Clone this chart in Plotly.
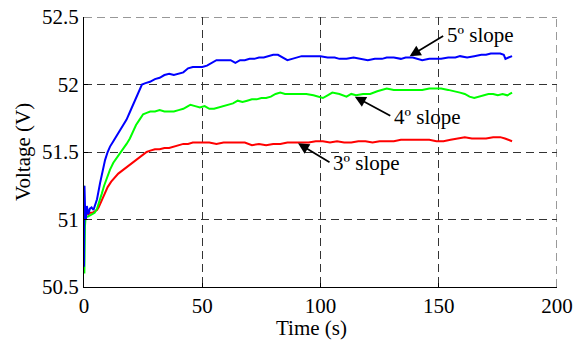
import plotly.graph_objects as go

# ---- data ----
t_blue = [0, 0.2, 0.5, 0.8, 1.2, 1.8, 2.5, 3.2, 4.0, 4.6, 5.5, 6.8, 7.8, 8.9, 10, 11, 12.4, 13.8, 15, 16.5,
          18, 19.5, 21, 22.3, 23.5, 24.5, 26, 27.9, 30, 32, 34, 36, 38, 40, 42, 44, 46, 48, 50, 52,
          54, 56, 58, 60, 62, 64, 66, 68, 70, 72, 74, 76, 78, 80, 82, 84, 86, 88, 90, 92,
          95, 98, 100, 103, 106, 108, 111, 114, 117, 120, 123, 126, 128, 131, 134, 136, 139, 141, 143, 146,
          149, 151, 154, 157, 159, 162, 165, 168, 170, 172, 174, 176, 177.5, 178.2, 179.5, 181]
v_blue = [50.65, 51.25, 51.05, 51.0, 51.1, 51.04, 51.08, 51.09, 51.07, 51.10, 51.15, 51.27, 51.36, 51.44, 51.50, 51.54, 51.58, 51.62, 51.66, 51.70,
          51.74, 51.80, 51.86, 51.91, 51.97, 52.00, 52.01, 52.02, 52.04, 52.05, 52.07, 52.08, 52.07, 52.08, 52.09, 52.12, 52.13, 52.13, 52.13, 52.14,
          52.16, 52.18, 52.18, 52.18, 52.18, 52.16, 52.18, 52.18, 52.19, 52.19, 52.20, 52.20, 52.21, 52.22, 52.22, 52.20, 52.18, 52.19, 52.20, 52.21,
          52.21, 52.21, 52.21, 52.20, 52.20, 52.19, 52.19, 52.20, 52.19, 52.18, 52.19, 52.19, 52.20, 52.20, 52.19, 52.20, 52.20, 52.19, 52.18, 52.19,
          52.19, 52.19, 52.20, 52.20, 52.21, 52.20, 52.21, 52.22, 52.22, 52.23, 52.23, 52.23, 52.22, 52.19, 52.20, 52.21]

t_green = [0, 0.15, 0.4, 0.7, 1.5, 2.5, 3.5, 4.5, 5.5, 6.5, 7.5, 8.5, 9.6, 11, 12.4, 14, 15.5, 16.6, 18, 19.4,
           20.8, 22, 23.5, 25, 26.5, 28, 30, 32, 34, 36, 38, 40, 42, 44, 45, 47, 49, 51, 53, 55,
           57, 59, 61, 63, 65, 67, 69, 71, 73, 75, 77, 79, 81, 83, 85, 87, 89, 91, 94, 97,
           99, 101, 103, 105, 108, 111, 113, 115, 118, 121, 124, 126, 128, 131, 134, 137, 140, 143, 146, 149,
           151, 154, 157, 159, 161, 163, 165, 167, 169, 171, 173, 175, 177, 179, 181]
v_green = [51.25, 50.6, 50.95, 51.02, 51.02, 51.03, 51.04, 51.05, 51.08, 51.13, 51.19, 51.25, 51.31, 51.37, 51.42, 51.46, 51.50, 51.52, 51.56, 51.60,
           51.65, 51.70, 51.74, 51.78, 51.79, 51.80, 51.80, 51.81, 51.80, 51.80, 51.80, 51.81, 51.82, 51.84, 51.85, 51.84, 51.83, 51.84, 51.82, 51.82,
           51.83, 51.84, 51.85, 51.86, 51.88, 51.87, 51.88, 51.89, 51.89, 51.90, 51.90, 51.91, 51.93, 51.94, 51.93, 51.93, 51.93, 51.93, 51.93, 51.92,
           51.91, 51.90, 51.92, 51.94, 51.93, 51.91, 51.93, 51.92, 51.93, 51.93, 51.95, 51.96, 51.97, 51.96, 51.96, 51.96, 51.96, 51.96, 51.97, 51.97,
           51.97, 51.96, 51.95, 51.94, 51.93, 51.91, 51.90, 51.91, 51.92, 51.93, 51.93, 51.92, 51.93, 51.92, 51.94]

t_red = [1.5, 2.5, 3.5, 4.5, 5.5, 6.2, 7, 8, 8.9, 10, 11.5, 13, 14.5, 16, 17.5, 19.4, 21, 23, 25, 26.5,
         28, 30, 32, 34, 36, 38, 40, 42, 44, 46, 48, 50, 53, 56, 59, 62, 65, 68, 71, 74,
         77, 80, 83, 86, 89, 92, 95, 98, 101, 104, 107, 110, 113, 116, 119, 122, 125, 128, 131, 134,
         137, 140, 143, 146, 149, 152, 155, 158, 161, 164, 167, 170, 173, 176, 178, 179.5, 181]
v_red = [51.03, 51.05, 51.05, 51.06, 51.07, 51.09, 51.12, 51.16, 51.20, 51.24, 51.28, 51.31, 51.34, 51.36, 51.38, 51.40, 51.42, 51.45, 51.48, 51.50,
         51.51, 51.52, 51.52, 51.53, 51.53, 51.54, 51.55, 51.56, 51.56, 51.57, 51.57, 51.57, 51.57, 51.56, 51.57, 51.57, 51.57, 51.57, 51.55, 51.56,
         51.55, 51.56, 51.56, 51.57, 51.57, 51.57, 51.57, 51.58, 51.58, 51.57, 51.58, 51.57, 51.57, 51.58, 51.58, 51.57, 51.58, 51.58, 51.58, 51.59,
         51.59, 51.59, 51.59, 51.59, 51.58, 51.58, 51.59, 51.60, 51.61, 51.60, 51.60, 51.60, 51.61, 51.61, 51.60, 51.59, 51.58]

x_ticks = [0, 50, 100, 150, 200]
y_ticks = [50.5, 51, 51.5, 52, 52.5]
y_tick_text = ["50.5", "51", "51.5", "52", "52.5"]
x_title = "Time (s)"
y_title = "Voltage (V)"

labels = ["5º slope", "4º slope", "3º slope"]
arrow_heads_t = [137.7, 114.5, 90.5]
arrow_heads_v = [52.21, 51.91, 51.565]

FONT = "Liberation Serif, Times New Roman, serif"
FS = 21
GRID = "#333333"
DASH = "8px,5px"

fig = go.Figure()
fig.add_trace(go.Scatter(x=t_red, y=v_red, mode="lines", line=dict(color="#ff0000", width=2), showlegend=False))
fig.add_trace(go.Scatter(x=t_green, y=v_green, mode="lines", line=dict(color="#00ff00", width=2), showlegend=False))
fig.add_trace(go.Scatter(x=t_blue, y=v_blue, mode="lines", line=dict(color="#0000ff", width=2), showlegend=False))

# arrows (pixel offsets for tails) and text
tail_offsets = [(35, -21), (37, 20), (33, 20)]
for lab, ht, hv, (dx, dy) in zip(labels, arrow_heads_t, arrow_heads_v, tail_offsets):
    fig.add_annotation(x=ht, y=hv, xref="x", yref="y", text="", showarrow=True,
                       ax=dx, ay=dy, axref="pixel", ayref="pixel",
                       arrowhead=2, arrowsize=1.3, arrowwidth=1.7, arrowcolor="black",
                       standoff=0)
    fig.add_annotation(x=ht, y=hv, xref="x", yref="y", text=lab, showarrow=True,
                       ax=dx, ay=dy, arrowcolor="rgba(0,0,0,0)", arrowwidth=0.1,
                       xanchor="left", yanchor="middle",
                       font=dict(family=FONT, size=FS, color="black"))

# axis titles
fig.add_annotation(x=0.482, y=-0.152, xref="paper", yref="paper", text=x_title, showarrow=False,
                   xanchor="center", yanchor="middle", font=dict(family=FONT, size=FS, color="black"))
fig.add_annotation(x=-0.129, y=0.5, xref="paper", yref="paper", text=y_title, showarrow=False, textangle=-90,
                   xanchor="center", yanchor="middle", font=dict(family=FONT, size=FS, color="black"))

# dashed grid lines at the far edges (top and right), as in the reference
fig.add_shape(type="line", xref="paper", yref="y", x0=0, x1=1, y0=y_ticks[-1], y1=y_ticks[-1],
              line=dict(color=GRID, width=1, dash=DASH), layer="below")
fig.add_shape(type="line", xref="x", yref="paper", x0=x_ticks[-1], x1=x_ticks[-1], y0=0, y1=1,
              line=dict(color=GRID, width=1, dash=DASH), layer="below")

fig.update_layout(
    width=583, height=340,
    margin=dict(l=84, r=26, t=17, b=53, autoexpand=False),
    paper_bgcolor="white", plot_bgcolor="white",
    font=dict(family=FONT, size=FS, color="black"),
    xaxis=dict(range=[0, 200], tickvals=x_ticks, ticks="inside", ticklen=4, tickcolor="black",
               showline=True, linecolor="black", linewidth=1, automargin=False,
               showgrid=True, gridcolor=GRID, gridwidth=1, griddash=DASH,
               zeroline=False, tickfont=dict(family=FONT, size=FS)),
    yaxis=dict(range=[50.5, 52.5], tickvals=y_ticks, ticktext=y_tick_text, ticks="inside", ticklen=4,
               tickcolor="black", automargin=False,
               showline=True, linecolor="black", linewidth=1,
               showgrid=True, gridcolor=GRID, gridwidth=1, griddash=DASH,
               zeroline=False, tickfont=dict(family=FONT, size=FS)),
)

fig.write_html("out.html", config={"displayModeBar": False},
               post_script="document.body.style.margin='0';")
